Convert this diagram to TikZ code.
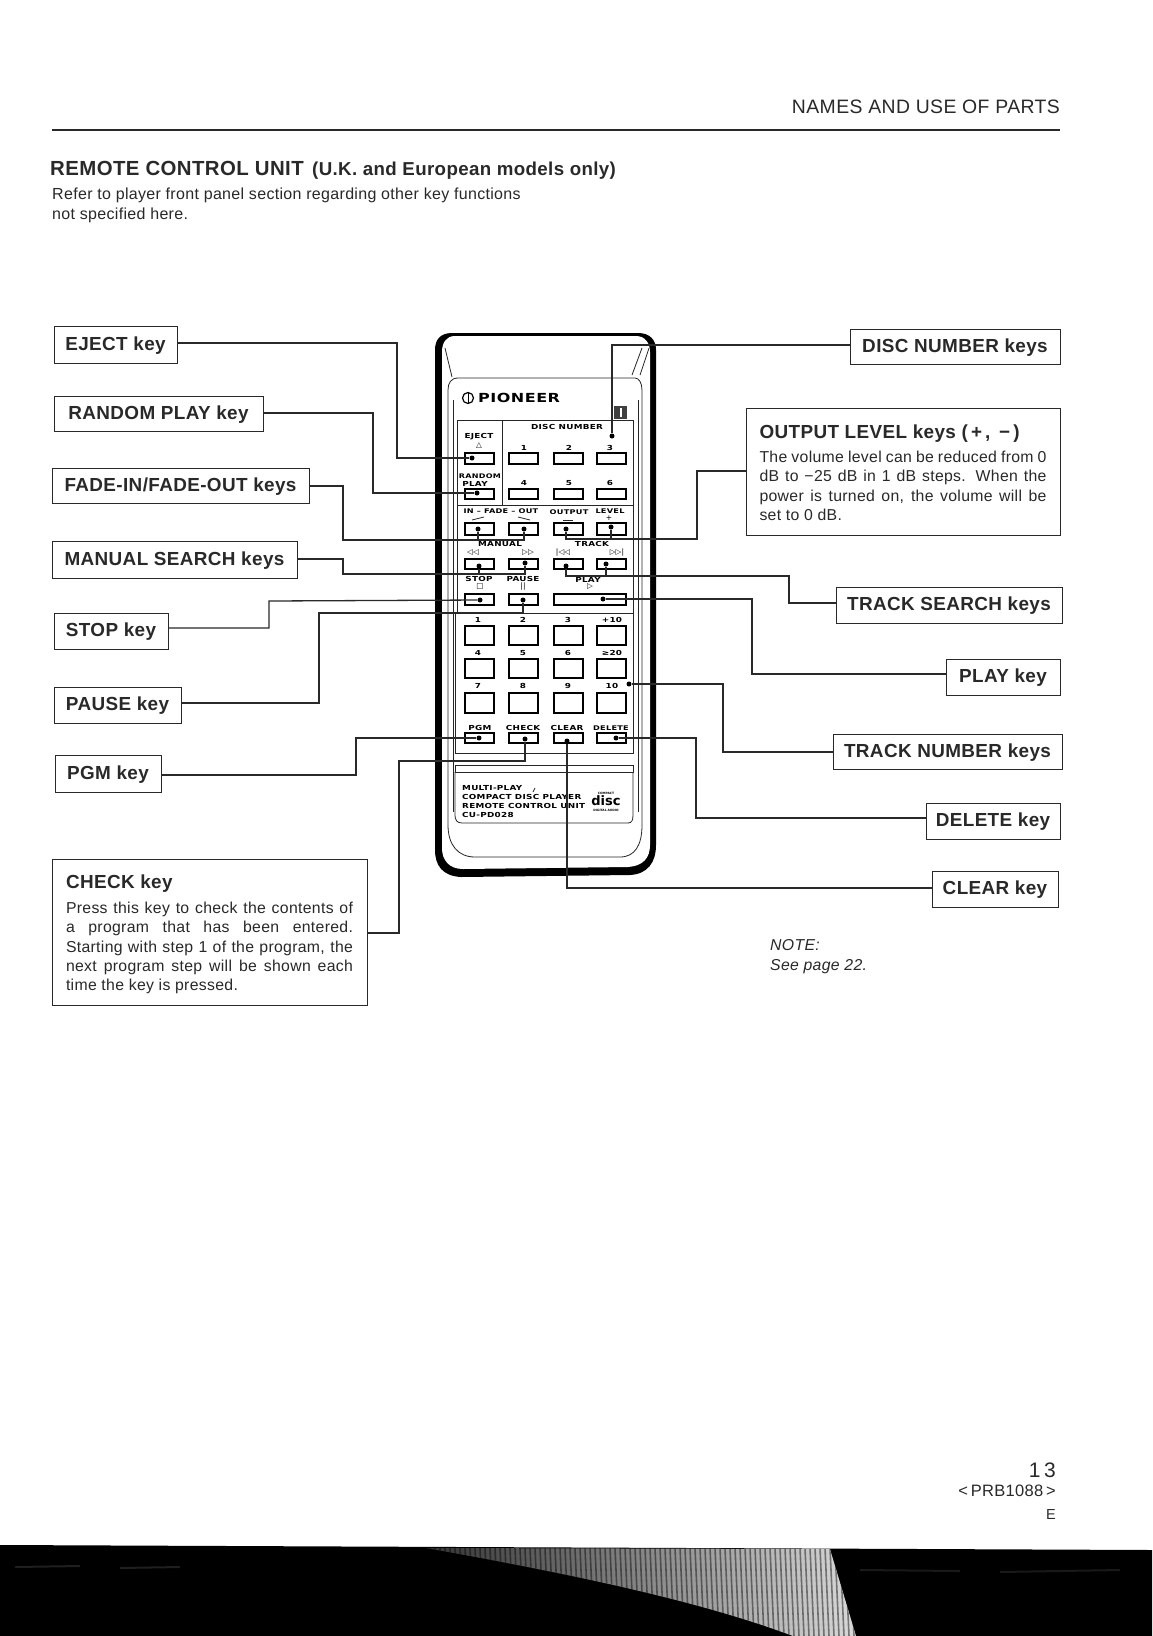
\documentclass[tikz,border=0pt]{standalone}
\usepackage{fontspec}
\setmainfont{Liberation Sans}[LetterSpace=2]
\newfontfamily\rfont{DejaVu Sans}[LetterSpace=4,FakeStretch=1.28]
\newfontfamily\symf{DejaVu Sans}
\usetikzlibrary{calc}
\definecolor{ink}{gray}{0.16}
\tikzset{
  x=1pt,y=-1pt,
  keybase/.style={draw=ink,line width=1pt,fill=white,inner sep=0pt,text=ink},
  keybox/.style={keybase,text height=14pt,text depth=2.4pt,font=\bfseries\fontsize{18.9}{20}\selectfont},
  infobox/.style={keybase,align=left,font=\fontsize{15.8}{19.4}\selectfont},
  conn/.style={draw=ink,line width=1.3pt,line join=miter},
  dotn/.style={circle,fill=black,inner sep=0pt,minimum size=5pt},
  pagetext/.style={inner sep=0pt,text=ink},
  btn/.style={draw=black,line width=1.2pt},
  rline/.style={draw=black!85,line width=0.8pt},
  rlab/.style={inner sep=0pt,text=black,font=\rfont\bfseries\fontsize{6.9}{7}\selectfont},
  rsym/.style={inner sep=0pt,text=black,font=\symf\fontsize{7.5}{8}\selectfont},
}
\newcommand{\jl}[1]{\makebox[287pt][s]{#1}\\}
\begin{document}
\begin{tikzpicture}
\useasboundingbox (0,0) rectangle (1152,1636);
\fill[white] (0,0) rectangle (1152,1636);

% ---- header
\node[pagetext,anchor=base east,font=\fontsize{19.4}{20}\selectfont] (hdr) at (1060,113) {NAMES AND USE OF PARTS};
\draw[ink,line width=1.2pt] (52,130) -- (1060,130);
\node[pagetext,anchor=base west,font=\bfseries\fontsize{20.4}{22}\selectfont] (ttl) at (50,175) {REMOTE CONTROL UNIT};
\node[pagetext,anchor=base west,font=\bfseries\fontsize{18.7}{22}\selectfont] (ttl2) at (ttl.base east) {\hspace{8pt}(U.K. and European models only)};
\node[pagetext,anchor=base west,font=\fontsize{16}{19}\selectfont] (intro1) at (52,199) {Refer to player front panel section regarding other key functions};
\node[pagetext,anchor=base west,font=\fontsize{16}{19}\selectfont] (intro2) at (52,219) {not specified here.};

% ---- remote body
\fill[black] (435,350) .. controls (435,340) and (440,333) .. (452,333) -- (638,333) .. controls (650,333) and (656,340) .. (656,350)
  -- (656,845) .. controls (656,862) and (648,874) .. (630,875) -- (461,877) .. controls (443,876) and (435,866) .. (435,850) -- cycle;
\fill[white] (442,352) .. controls (442,343) and (446,336) .. (455,336) -- (636,336) .. controls (645,336) and (650,343) .. (650,352)
  -- (650,845) .. controls (650,858) and (643,866) .. (628,867) -- (463,869) .. controls (449,869) and (442,860) .. (442,848) -- cycle;
\draw[rline] (445,348) -- (452,377);
\draw[rline] (642,348) -- (632,375);
\draw[rline] (649,348) -- (640,375);
\draw[rline] (448,825) -- (448,390) .. controls (448,383) and (451,378) .. (458,378) -- (635,378) .. controls (639,378) and (642,383) .. (642,390) -- (642,825);
\draw[rline] (448,825) .. controls (448,845) and (458,857) .. (475,857) -- (620,857) .. controls (635,857) and (642,845) .. (642,825);
\draw[rline] (453,400) -- (453,812);
\draw[rline] (638,400) -- (638,812);
% keypad frames
\draw[rline] (457,505) -- (457,420) -- (633,420) -- (633,505);
\draw[rline] (502,420) -- (502,505);
\draw[rline] (457,505) -- (633,505);
\draw[rline] (457,505) -- (457,613);
\draw[rline] (633,505) -- (633,613);
\draw[rline] (455,613) rectangle (633,753);
\draw[rline] (455,765) rectangle (633,772);
\draw[rline] (455,772) -- (455,815) .. controls (455,820) and (457,823) .. (462,823) -- (628,823) .. controls (632,823) and (633,820) .. (633,815) -- (633,772);

% keys
\foreach \a/\b/\ya/\yb in {
 465/494/453/464, 509/538/453/464, 554/583/453/464, 597/626/453/464,
 465/494/489/499, 509/538/489/499, 554/583/489/499, 597/626/489/499,
 465/494/523/535, 509/538/523/535, 554/583/523/535, 597/626/523/535,
 465/494/559/569, 509/538/559/569, 554/583/559/569, 597/626/559/569,
 465/494/594/605, 509/538/594/605, 554/626/594/605,
 465/494/626/645, 509/538/626/645, 554/583/626/645, 597/626/626/645,
 465/494/659/678, 509/538/659/678, 554/583/659/678, 597/626/659/678,
 465/494/693/713, 509/538/693/713, 554/583/693/713, 597/626/693/713,
 465/494/733/743, 509/538/733/743, 554/583/733/743, 597/626/733/743}
 {\draw[btn] (\a,\ya) rectangle (\b,\yb);}

% remote lettering
\node[inner sep=0pt,anchor=west,text=black,font=\rfont\bfseries\fontsize{12.5}{13}\selectfont] (pion) at (478,398) {PIONEER};
\draw[black,line width=1.2pt] (468,398) circle (5.5);
\draw[black,line width=1pt] (468,393) -- (468,403);
\fill[black!75] (614,406) rectangle (627,419);
\fill[white] (620,408) rectangle (622,417);
\node[rlab] (t1) at (567,427) {DISC NUMBER};
\node[rlab] (t2) at (479,437) {EJECT};
\node[rsym] (t3) at (479,446) {△};
\node[rlab,font=\rfont\bfseries\fontsize{6.3}{7}\selectfont] (t4) at (480,476) {RANDOM};
\node[rlab] (t5) at (475,484) {PLAY};
\foreach \nm/\tx/\px/\py in {d1/1/524/448,d2/2/569/448,d3/3/610/448,d4/4/524/483,d5/5/569/483,d6/6/610/483,
  n1/1/478/620,n2/2/523/620,n3/3/568/620,n10/+10/612/620,n4/4/478/653,n5/5/523/653,n6/6/568/653,n20/≥20/612/653,
  n7/7/478/686,n8/8/523/686,n9/9/568/686,n0/10/612/686}
  {\node[rlab] (\nm) at (\px,\py) {\tx};}
\node[rlab,font=\rfont\bfseries\fontsize{6.4}{7}\selectfont] (t6) at (501,511) {IN – FADE – OUT};
\node[rlab,font=\rfont\bfseries\fontsize{6.4}{7}\selectfont] (t7) at (569,512) {OUTPUT};
\node[rlab,font=\rfont\bfseries\fontsize{6.4}{7}\selectfont] (t8) at (610,511) {LEVEL};
\draw[rline] (472,520) -- (484,517);
\draw[rline] (518,517) -- (530,520);
\draw[rline] (563,520) -- (573,520);
\node[rsym] (t9) at (609,518) {+};
\node[rlab] (t10) at (500,544) {MANUAL};
\node[rlab] (t11) at (592,544) {TRACK};
\node[rsym] (s1) at (473,553) {◁◁};
\node[rsym] (s2) at (528,553) {▷▷};
\node[rsym] (s3) at (563,553) {|◁◁};
\node[rsym] (s4) at (617,553) {▷▷|};
\node[rlab] (t12) at (479,579) {STOP};
\node[rlab] (t13) at (523,579) {PAUSE};
\node[rlab] (t14) at (588,580) {PLAY};
\node[rsym] (s5) at (480,587) {□};
\node[rsym] (s6) at (523,587) {||};
\node[rsym] (s7) at (590,587) {▷};
\node[rlab] (t15) at (480,728) {PGM};
\node[rlab] (t16) at (523,728) {CHECK};
\node[rlab] (t17) at (567,728) {CLEAR};
\node[rlab,font=\rfont\bfseries\fontsize{6.4}{7}\selectfont] (t18) at (611,728) {DELETE};
\node[rlab,anchor=west] (t19) at (462,788) {MULTI-PLAY};
\draw[rline] (533,792) -- (535,788);
\node[rlab,anchor=west] (t20) at (462,797) {COMPACT DISC PLAYER};
\node[rlab,anchor=west] (t21) at (462,806) {REMOTE CONTROL UNIT};
\node[rlab,anchor=west] (t22) at (462,815) {CU-PD028};
\node[inner sep=0pt,text=black,font=\symf\bfseries\fontsize{3}{3}\selectfont] (c1) at (606,793) {COMPACT};
\node[inner sep=0pt,text=black,font=\symf\bfseries\fontsize{13}{13}\selectfont] (c2) at (606,801) {disc};
\node[inner sep=0pt,text=black,font=\symf\bfseries\fontsize{3}{3}\selectfont] (c3) at (606,810) {DIGITAL AUDIO};

% ---- dots
\node[dotn] (dEject) at (472,458) {};
\node[dotn] (dRandom) at (477,493) {};
\node[dotn] (dFadeIn) at (478,529) {};
\node[dotn] (dFadeOut) at (524,529) {};
\node[dotn] (dRew) at (479,566) {};
\node[dotn] (dFwd) at (525,563) {};
\node[dotn] (dStop) at (480,600) {};
\node[dotn] (dPause) at (523,600) {};
\node[dotn] (dPgm) at (479,738) {};
\node[dotn] (dCheck) at (525,739) {};
\node[dotn] (dDisc) at (612,436) {};
\node[dotn] (dMinus) at (566,529) {};
\node[dotn] (dPlus) at (611,527) {};
\node[dotn] (dPrev) at (566,566) {};
\node[dotn] (dNext) at (606,564) {};
\node[dotn] (dPlay) at (603,599) {};
\node[dotn] (dTrack) at (629,684) {};
\node[dotn] (dDelete) at (616,738) {};
\node[dotn] (dClear) at (567,741) {};

% ---- label boxes
\node[keybox,minimum width=123pt,minimum height=37pt] (eject) at (115.5,344.5) {EJECT key};
\node[keybox,minimum width=209pt,minimum height=35pt] (random) at (158.5,413.5) {RANDOM PLAY key};
\node[keybox,minimum width=257pt,minimum height=35pt] (fade) at (180.5,485.5) {FADE-IN/FADE-OUT keys};
\node[keybox,minimum width=245pt,minimum height=37pt] (manual) at (174.5,559.5) {MANUAL SEARCH keys};
\node[keybox,minimum width=114pt,minimum height=36pt] (stop) at (111,631) {STOP key};
\node[keybox,minimum width=127pt,minimum height=36pt] (pause) at (117.5,705) {PAUSE key};
\node[keybox,minimum width=106pt,minimum height=37pt] (pgm) at (108,773.5) {PGM key};
\node[infobox,minimum width=315pt,minimum height=146pt] (check) at (209.5,932) {%
  \rule{0pt}{19pt}{\bfseries\fontsize{18.9}{24}\selectfont CHECK key}\\[5pt]
  \jl{Press this key to check the contents of}
  \jl{a program that has been entered.}
  \jl{Starting with step 1 of the program, the}
  \jl{next program step will be shown each}
  time the key is pressed.};
\node[keybox,minimum width=210pt,minimum height=35pt] (disc) at (955,346.5) {DISC NUMBER keys};
\node[infobox,minimum width=314pt,minimum height=127pt] (output) at (903,471.5) {%
  \rule{0pt}{16.5pt}{\bfseries\fontsize{18.9}{24}\selectfont OUTPUT LEVEL keys (\,+\,,\ \,−\,)}\\[4.5pt]
  \jl{The volume level can be reduced from 0}
  \jl{dB to −25 dB in 1 dB steps. When the}
  \jl{power is turned on, the volume will be}
  set to 0 dB.};
\node[keybox,minimum width=226pt,minimum height=36pt] (search) at (949,605) {TRACK SEARCH keys};
\node[keybox,minimum width=114pt,minimum height=36pt] (play) at (1003,677) {PLAY key};
\node[keybox,minimum width=229pt,minimum height=35pt] (tracknum) at (947.5,751.5) {TRACK NUMBER keys};
\node[keybox,minimum width=134pt,minimum height=36pt] (delete) at (993,821) {DELETE key};
\node[keybox,minimum width=126pt,minimum height=36pt] (clear) at (995,889) {CLEAR key};

% ---- connectors
\draw[conn] (eject.east |- 0,343) -| (397,458) -- (dEject);
\draw[conn] (random.east |- 0,413) -| (373,493) -- (dRandom);
\draw[conn] (fade.east |- 0,486) -| (343,540) -| (dFadeOut);
\draw[conn] (dFadeIn) -- (dFadeIn |- 0,540);
\draw[conn] (manual.east |- 0,559) -| (343,574) -| (dFwd);
\draw[conn] (dRew) -- (dRew |- 0,574);
\draw[conn] (stop.east |- 0,628) -| (269,601) -- (dStop);
\draw[conn] (pause.east |- 0,703) -| (319,613) -| (dPause);
\draw[conn] (pgm.east |- 0,775) -| (356,738) -- (dPgm);
\draw[conn] (check.east |- 0,933) -| (399,761) -| (dCheck);
\draw[conn] (disc.west |- 0,345) -| (dDisc);
\draw[conn] (output.west |- 0,471) -| (697,539) -| (dMinus);
\draw[conn] (dPlus) -- (dPlus |- 0,539);
\draw[conn] (search.west |- 0,603) -| (789,576) -| (dPrev);
\draw[conn] (dNext) -- (dNext |- 0,576);
\draw[conn] (play.west |- 0,674) -| (752,599) -- (dPlay);
\draw[conn] (tracknum.west |- 0,752) -| (723,684) -- (dTrack);
\draw[conn] (delete.west |- 0,818) -| (696,738) -- (dDelete);
\draw[conn] (clear.west |- 0,888) -| (dClear);

% ---- note and footer
\node[pagetext,anchor=base west,font=\itshape\fontsize{15.8}{18}\selectfont] (note1) at (770,950) {NOTE:};
\node[pagetext,anchor=base west,font=\itshape\fontsize{15.8}{18}\selectfont] (note2) at (770,970) {See page 22.};
\node[pagetext,anchor=base east,font=\fontsize{21}{24}\selectfont] (pg) at (1056,1477) {1\,3};
\node[pagetext,anchor=base east,font=\fontsize{16.5}{16}\selectfont] (code) at (1056,1496) {<\,PRB1088\,>};
\node[pagetext,anchor=base east,font=\fontsize{14.5}{16}\selectfont] (edn) at (1056,1519) {E};

% ---- dark band
\fill[black] (0,1545) -- (1152,1550) -- (1152,1636) -- (0,1636) -- cycle;
\begin{scope}
\clip (426,1548) -- (830,1549) -- (856,1636) -- (793,1636) .. controls (705,1603) and (588,1577) .. (426,1548) -- cycle;
\shade[left color=black!80,right color=black!15] (426,1548) rectangle (856,1636);
\foreach \sx in {430,435,...,856} {\draw[black,line width=1.6pt,opacity=0.45] (\sx,1548) -- (\sx+4,1636);}
\end{scope}
\draw[black!88,line width=2pt] (15,1567) -- (80,1566);
\draw[black!88,line width=2pt] (120,1568) -- (180,1567);
\draw[black!90,line width=2pt] (860,1570) -- (960,1571);
\draw[black!90,line width=2pt] (1000,1572) -- (1120,1570);
\end{tikzpicture}
\end{document}
